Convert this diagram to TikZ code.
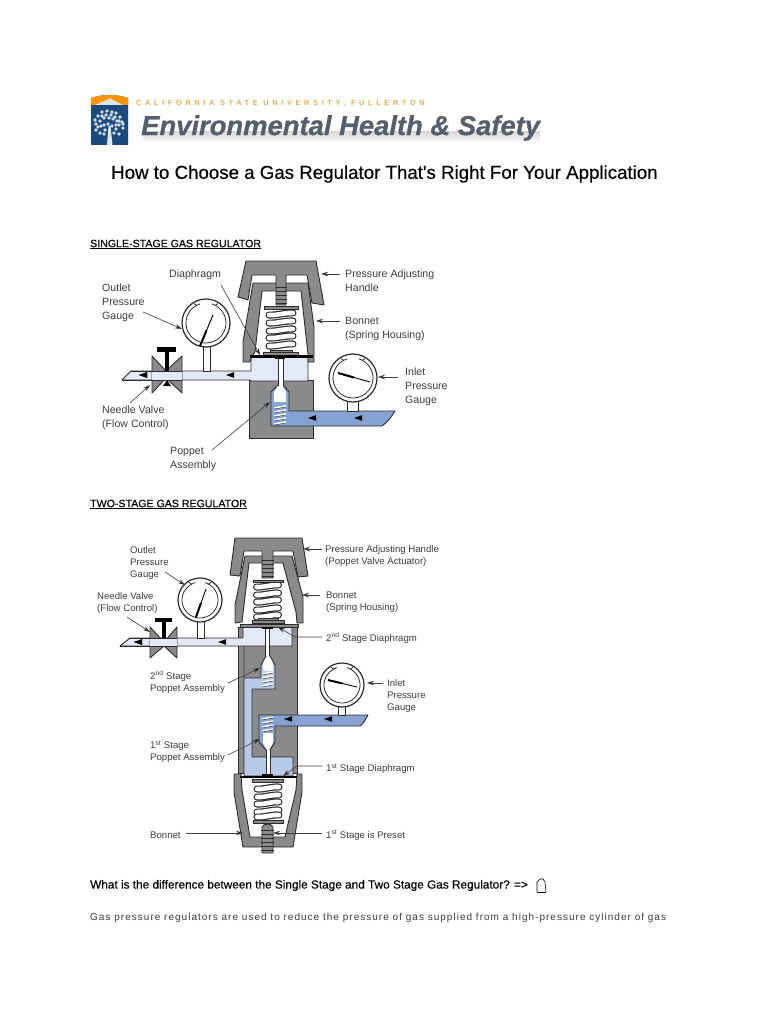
\documentclass[tikz,border=0pt]{standalone}
\usepackage{fontspec}
\setmainfont{Liberation Sans}
\newfontfamily\medfont[FakeBold=0.35]{Liberation Sans}
\newfontfamily\spacedfont[LetterSpace=10.2]{Liberation Sans}
\newfontfamily\capsfont[LetterSpace=49]{Liberation Sans Bold}
\newfontfamily\logofont[FakeBold=0.6]{Liberation Sans Bold Italic}
\usetikzlibrary{arrows.meta,calc}
\definecolor{bodygray}{HTML}{8A8A8A}
\definecolor{ink}{HTML}{2C2C2C}
\definecolor{inlet}{HTML}{86A3D3}
\definecolor{midblue}{HTML}{B9CAE8}
\definecolor{pale}{HTML}{E3E9F6}
\definecolor{labelgray}{HTML}{3E3E3E}
\definecolor{shieldblue}{HTML}{1B4A7E}
\definecolor{gold}{HTML}{E3AE4C}
\definecolor{logogray}{HTML}{545E6C}
\newcommand{\fsz}[2]{\fontsize{#1}{#2}\selectfont}
\tikzset{
 metal/.style={fill=bodygray,draw=ink,line width=0.9pt,line join=round},
 bluefill/.style={fill=#1,draw=ink,line width=0.9pt,line join=round},
 lab/.style={anchor=west,inner sep=0pt,yshift=-1pt,text=labelgray,align=left,font=\fsz{10.6}{14}},
 labs/.style={anchor=west,inner sep=0pt,yshift=-1pt,text=labelgray,align=left,font=\fsz{9.6}{12}},
 leader/.style={draw=labelgray,line width=0.6pt,-{Stealth[length=7pt,width=4.5pt,fill=black]}},
 flow/.style={fill=black,draw=none},
 para/.style={anchor=west,inner sep=0pt,text=black},
}
% spring: centre x, half width, list of y
\newcommand{\springat}[3]{\foreach \yy in {#3}{%
  \draw[ink,line width=7pt,line cap=round] (#1-#2+3,\yy+1) .. controls (#1-3,\yy+1.5) and (#1+3,\yy-1.5) .. (#1+#2-3,\yy-1);
  \draw[white,line width=4.6pt,line cap=round] (#1-#2+3,\yy+1) .. controls (#1-3,\yy+1.5) and (#1+3,\yy-1.5) .. (#1+#2-3,\yy-1);}}
% gauge: cx cy r needle tail, needle tip
\newcommand{\gaugeat}[5]{%
 \fill[white,draw=ink,line width=1.2pt] (#1,#2) circle[radius=#3];
 \begin{scope}[shift={(#1,#2)}]
  \draw[ink,line width=0.8pt] (-62:#3-4) arc[start angle=-62,end angle=242,radius=#3-4];
  \draw[ink,line width=0.8pt] (-62:#3-4) ++(-3.5,-1.5) -- (-62:#3-4) -- ++(2.5,-1.8);
  \draw[ink,line width=0.8pt] (242:#3-4) ++(3.5,-1.5) -- (242:#3-4) -- ++(-2.5,-1.8);
 \end{scope}
 \draw[black,line width=0.9pt] #4 -- #5;
 \draw[black,line width=2pt] #4 -- ($#4!0.5!#5$);}
\newcommand{\triR}[2]{\fill[flow] (#1-4,#2) -- (#1+4,#2-2.8) -- (#1+4,#2+2.8) -- cycle;}
\begin{document}
\begin{tikzpicture}[x=1pt,y=-1pt]
\useasboundingbox (0,0) rectangle (768,1024);
\fill[white] (0,0) rectangle (768,1024);

% ---------- logo ----------
\fill[shieldblue] (91,98) .. controls (103,94) and (116,94) .. (128,98) -- (128,145) -- (91,145) -- cycle;
\fill[orange!85!yellow] (91,98) .. controls (103,94) and (116,94) .. (128,98) -- (128,105) -- (91,105) -- cycle;
\fill[white!85!shieldblue] (95,105) -- (110,98.5) -- (123,105) -- cycle;
\foreach \p/\q in {98/116,102/112,107/111,112/112,116/113,120/117,122/122,119/125,123/128,116/129,112/126,108/124,104/125,100/121,96/124,96/130,100/133,105/130,114/133,119/134,109/118,104/118,113/119,117/121,98/127,102/116,106/115,111/115,115/117,119/121,101/126,104/134,116/125,95/120,123/124}
  {\fill[white!80!shieldblue] (\p,\q) circle[radius=1.8];}
\fill[white!88!shieldblue] (107,145) -- (108.5,126) -- (110.5,126) -- (112.5,145) -- cycle;
\node[para,text=gold,font=\capsfont\fsz{7.4}{8}] (univ) at (136,103) {CALIFORNIA STATE UNIVERSITY, FULLERTON};
\shade[top color=gray!30,bottom color=white] (143,132) rectangle (540,143);
\node[para,text=logogray,font=\logofont\fsz{27.4}{30}] (ehs) at (141,128) {Environmental Health \& Safety};

% ---------- headings ----------
\node[para,font=\medfont\fsz{18.7}{20}] (title) at (111,174) {How to Choose a Gas Regulator That's Right For Your Application};
\node[para,font=\medfont\fsz{10.6}{12}] (head1) at (90,244.5) {\underline{SINGLE-STAGE GAS REGULATOR}};
\node[para,font=\medfont\fsz{10.6}{12}] (head2) at (90,504.5) {\underline{TWO-STAGE GAS REGULATOR}};
\node[para,font=\medfont\fsz{11.8}{12}] (q) at (90,885.5) {What is the difference between the Single Stage and Two Stage Gas Regulator? =>};
\node[para,text=labelgray,font=\spacedfont\fsz{10}{12}] (body) at (90,918) {Gas pressure regulators are used to reduce the pressure of gas supplied from a high-pressure cylinder of gas};
\draw[black,line width=0.6pt,line join=round] (537,892) -- (537,882) -- (540,879) -- (543,879) -- (545,882) -- (546,892);
\draw[black,line width=0.6pt] (537,892.5) -- (546,892.5);

% ---------- single-stage regulator ----------
\draw[metal] (249,380) rectangle (313,438);
% inlet
\draw[bluefill=inlet] (271,426) -- (271,392) -- (278,385) -- (283,385) -- (289,392) -- (289,411) -- (395,411) .. controls (391,417) and (388,422) .. (382,426) -- cycle;
\fill[white] (278.5,385) -- (274,392) -- (274,402) -- (286,402) -- (286,392) -- (282,385) -- cycle;
\foreach \yy in {407,411,415,419,423}{\draw[white,line width=1.6pt] (274,\yy+1) -- (286,\yy-1);\draw[ink,line width=0.4pt] (274,\yy+2) -- (286,\yy);}
\triR{312}{418}\triR{358}{418}
% chamber and outlet pipe
\draw[bluefill=pale] (122,380) -- (131,371) -- (251,371) -- (251,357) -- (308,357) -- (308,381) -- (289,381) -- (272,381) -- (251,381) -- (251,380) -- cycle;
\fill[pale] (250,372) rectangle (252,379.5);
\triR{143}{375}\triR{230}{375}
% stem
\fill[white] (278,359) rectangle (283,386);
\draw[ink,line width=0.8pt] (278,359) -- (278,386) (283,359) -- (283,386);
% bonnet
\draw[metal] (253,283) -- (308,283) -- (314,327) -- (314,362) -- (308,362) -- (308,354) -- (301,291) -- (262,291) -- (255,352) -- (252,356) -- (250,362) -- (243,362) -- (243,342) -- cycle;
% handle
\draw[metal] (246,261) -- (316,261) -- (324,305) -- (312,303) -- (307,275) -- (286,275) -- (286,305) -- (276,305) -- (276,275) -- (252,275) -- (248,300) -- (238,297) -- cycle;
\foreach \yy in {287,291,295,299,303}{\draw[ink,line width=0.5pt] (275.5,\yy) -- (286.5,\yy);}
% spring
\springat{281}{15}{345,337,330,322,314}
\fill[bodygray,draw=ink,line width=0.7pt] (264,306.5) rectangle (298,309.5);
\fill[bodygray,draw=ink,line width=0.7pt] (270,350) rectangle (292,353);
\fill[bodygray,draw=ink,line width=0.7pt] (263,352.5) rectangle (298,355);
\fill[black] (250,355) rectangle (313,357.5);
\fill[black] (275,357) rectangle (285,359);
% outlet gauge
\draw[fill=white,draw=ink,line width=0.8pt] (203,345) rectangle (210,371);
\gaugeat{206}{323}{24}{(200,346)}{(213,315)}
% inlet gauge
\draw[fill=white,draw=ink,line width=0.8pt] (347,398) rectangle (358,411);
\gaugeat{353}{378}{24}{(338,373)}{(370,382)}
% needle valve
\draw[metal] (152,356) -- (166,371) -- (182,356) -- (182,393) -- (166,378) -- (152,393) -- cycle;
\fill[pale] (152,371.5) rectangle (182,379.5);
\draw[ink,line width=0.9pt] (131,371) -- (182,371) (122,380) -- (182,380);
\fill[black] (157,347) rectangle (176,352);
\fill[black] (165,352) rectangle (169,371);
\fill[black] (163,386) -- (167,380) -- (171,386) -- cycle;
\triR{143}{375}

% labels, single
\node[lab] (d1) at (169,274) {Diaphragm};
\node[lab] (o1) at (102,302) {Outlet\\Pressure\\Gauge};
\node[lab] (n1) at (102,417) {Needle Valve\\(Flow Control)};
\node[lab] (p1) at (170,458) {Poppet\\Assembly};
\node[lab] (h1) at (345,280) {Pressure Adjusting\\Handle};
\node[lab] (b1) at (345,328) {Bonnet\\(Spring Housing)};
\node[lab] (i1) at (405,386) {Inlet\\Pressure\\Gauge};
\coordinate (d1a) at (221,285); \coordinate (d1b) at (260,355);
\coordinate (o1a) at (143,312); \coordinate (o1b) at (182,329);
\coordinate (n1a) at (130,403); \coordinate (n1b) at (150,385);
\coordinate (p1a) at (212,450); \coordinate (p1b) at (270,402);
\coordinate (h1a) at (340,274); \coordinate (h1b) at (321,274);
\coordinate (b1a) at (340,321); \coordinate (b1b) at (316,321);
\coordinate (i1a) at (398,377); \coordinate (i1b) at (378,377);
\foreach \c in {d1,o1,n1,p1,h1,b1,i1}{\draw[leader] (\c a) -- (\c b);}

% ---------- two-stage regulator ----------
% body
\draw[metal] (238,627) rectangle (297,773);
% mid pressure passage
\draw[bluefill=midblue] (244,646) -- (244,776) -- (293,776) -- (293,757) -- (252,757) -- (252,689) -- (275,689) -- (275,665) -- (270,656) -- (266,656) -- (261,665) -- (261,678) -- (244,678) -- cycle;
% inlet
\draw[bluefill=inlet] (259,715) -- (368,715) .. controls (365,720) and (364,723) .. (360,726) -- (275,726) -- (275,742) -- (270,750) -- (266,750) -- (259,742) -- cycle;
\fill[white] (263,733) rectangle (273,743);
\fill[white] (263,743) -- (267,750) -- (269,750) -- (273,743) -- cycle;
\foreach \yy in {718,722,726,730}{\draw[white,line width=1.5pt] (262,\yy+1) -- (273,\yy-1);\draw[ink,line width=0.4pt] (262,\yy+2) -- (273,\yy);}
\fill[white] (263,663) rectangle (273,671);
\fill[white] (267,656) -- (263,663) -- (273,663) -- (269,656) -- cycle;
\foreach \yy in {673,677,681,685}{\draw[white,line width=1.5pt] (262,\yy+1) -- (273,\yy-1);\draw[ink,line width=0.4pt] (262,\yy+2) -- (273,\yy);}
\triR{288}{719}\triR{328}{719}
% stems
\fill[white] (266,750) rectangle (270,775);
\draw[ink,line width=0.8pt] (266,750) -- (266,775) (270,750) -- (270,775);
% upper chamber and outlet pipe
\draw[bluefill=pale] (120,646) -- (130,638) -- (243,638) -- (243,627) -- (292,627) -- (292,646) -- cycle;
\fill[white] (265.5,627) rectangle (269.5,656);
\draw[ink,line width=0.8pt] (265.5,627) -- (265.5,656) (269.5,627) -- (269.5,656);
\triR{138}{642}\triR{222}{642}
% upper bonnet and handle
\draw[metal] (245,556) -- (292,556) -- (303,597) -- (303,623) -- (297,623) -- (296,612) -- (283,563) -- (249,563) -- (242,622) -- (235,623) -- (235,605) -- cycle;
\draw[metal] (235,538) -- (302,538) -- (308,576) -- (298,577) -- (293,551) -- (273,551) -- (273,578) -- (262,578) -- (262,551) -- (244,551) -- (240,576) -- (230,575) -- cycle;
\foreach \yy in {560,564,568,572,576}{\draw[ink,line width=0.5pt] (261.5,\yy) -- (273.5,\yy);}
\springat{267.5}{14}{616,609,601,594,586}
\fill[bodygray,draw=ink,line width=0.7pt] (253,580) rectangle (283,582.5);
\fill[bodygray,draw=ink,line width=0.7pt] (258,618) rectangle (278,621);
\fill[bodygray,draw=ink,line width=0.7pt] (252,620.5) rectangle (284,623.5);
\fill[bodygray,draw=ink,line width=0.8pt] (240,624) rectangle (298,627.5);
\fill[black] (262,627) rectangle (273,629);
% lower bonnet
\draw[metal] (234,774) -- (234,792) -- (243,847) -- (293,847) -- (302,792) -- (302,774) -- (297,774) -- (296,790) -- (285,837) -- (250,837) -- (242,790) -- (241,774) -- cycle;
\fill[black] (240,775.5) rectangle (297,778);
\fill[black] (262,773.5) rectangle (273,776);
\springat{268}{14}{788,796,803,811,816}
\fill[bodygray,draw=ink,line width=0.7pt] (252,779) rectangle (283,782);
\fill[bodygray,draw=ink,line width=0.7pt] (253,820) rectangle (283,823);
% screw
\draw[metal] (262,827) .. controls (264,823) and (271,823) .. (273,827) -- (273,853) -- (262,853) -- cycle;
\foreach \yy in {830,834,838,842,846,850}{\draw[ink,line width=0.5pt] (261,\yy) -- (274,\yy);}
% gauges
\draw[fill=white,draw=ink,line width=0.8pt] (197,620) rectangle (204,638);
\gaugeat{200}{600}{22}{(196,617)}{(206,589)}
\draw[fill=white,draw=ink,line width=0.8pt] (338,702) rectangle (345,715);
\gaugeat{342}{685}{22}{(328,680)}{(357,687)}
% valve
\draw[metal] (150,627) -- (164,642) -- (177,627) -- (177,658) -- (164,646) -- (150,658) -- cycle;
\fill[pale] (150,638.5) rectangle (177,645.5);
\draw[ink,line width=0.9pt] (130,638) -- (177,638) (120,646) -- (177,646);
\fill[black] (155,618) rectangle (172,622);
\fill[black] (162,622) rectangle (165.5,638);
\triR{138}{642}
% labels, two-stage
\node[labs] (o2) at (130,562) {Outlet\\Pressure\\Gauge};
\node[labs] (n2) at (97,602) {Needle Valve\\(Flow Control)};
\node[labs] (h2) at (325,555) {Pressure Adjusting Handle\\(Poppet Valve Actuator)};
\node[labs] (b2) at (326,601) {Bonnet\\(Spring Housing)};
\node[labs] (d2) at (326,637) {2\textsuperscript{nd} Stage Diaphragm};
\node[labs] (p2) at (150,681) {2\textsuperscript{nd} Stage\\Poppet Assembly};
\node[labs] (i2) at (387,695) {Inlet\\Pressure\\Gauge};
\node[labs] (p3) at (150,751) {1\textsuperscript{st} Stage\\Poppet Assembly};
\node[labs] (d3) at (326,768) {1\textsuperscript{st} Stage Diaphragm};
\node[labs] (b3) at (150,834) {Bonnet};
\node[labs] (s3) at (326,834) {1\textsuperscript{st} Stage is Preset};
\coordinate (o2a) at (165,572); \coordinate (o2b) at (185,585);
\coordinate (n2a) at (127,617); \coordinate (n2b) at (150,632);
\coordinate (h2a) at (322,549); \coordinate (h2b) at (303,549);
\coordinate (b2a) at (320,595); \coordinate (b2b) at (302,595);
\coordinate (p2a) at (228,683); \coordinate (p2b) at (260,668);
\coordinate (i2a) at (383,683); \coordinate (i2b) at (367,683);
\coordinate (p3a) at (228,755); \coordinate (p3b) at (260,739);
\coordinate (b3a) at (186,833); \coordinate (b3b) at (243,833);
\coordinate (s3a) at (322,833); \coordinate (s3b) at (273,833);
\foreach \c in {o2,n2,h2,b2,p2,i2,p3,b3,s3}{\draw[leader] (\c a) -- (\c b);}
\coordinate (d2a) at (322,637); \coordinate (d2m) at (295,637); \coordinate (d2b) at (278,627);
\coordinate (d3a) at (322,766); \coordinate (d3m) at (297,766); \coordinate (d3b) at (283,776);
\draw[leader] (d2a) -- (d2m) -- (d2b);
\draw[leader] (d3a) -- (d3m) -- (d3b);
\end{tikzpicture}
\end{document}
